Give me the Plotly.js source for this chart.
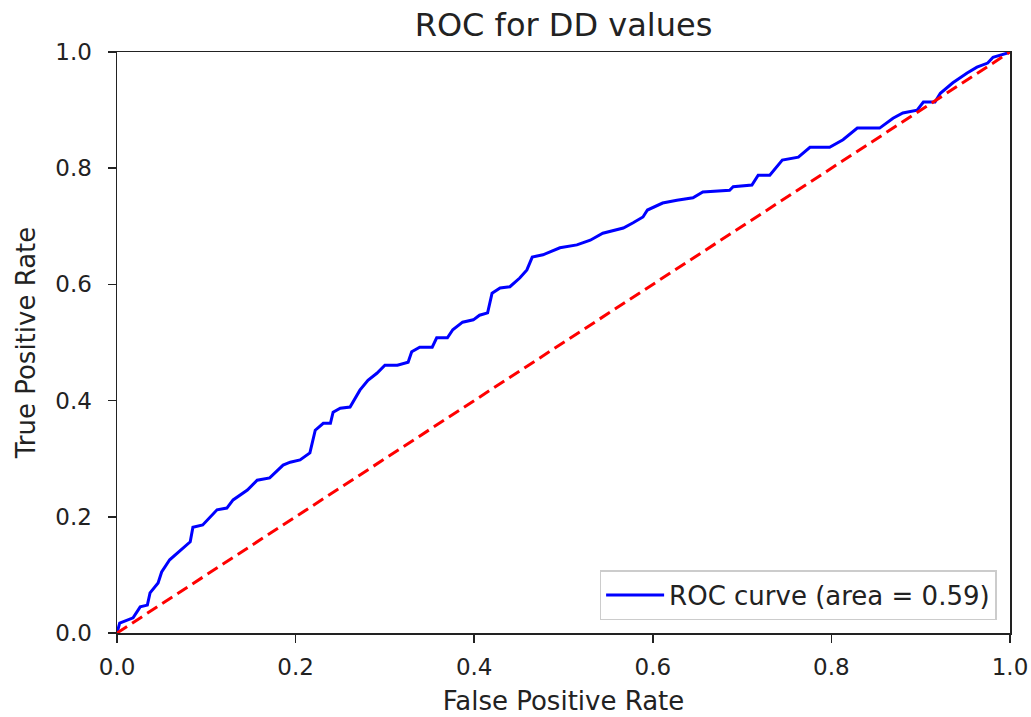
<!DOCTYPE html>
<html>
<head>
<meta charset="utf-8">
<script src="https://cdn.plot.ly/plotly-3.0.1.min.js"></script>
<style>html,body{margin:0;padding:0;background:#fff;}#chart{width:1031px;height:717px;}</style>
</head>
<body>
<div id="chart"></div>
<script>
const fpr = [0.0, 0.003, 0.018, 0.026, 0.034, 0.037, 0.046, 0.05, 0.059, 0.071, 0.082, 0.085, 0.096, 0.112, 0.123, 0.13, 0.146, 0.157, 0.171, 0.186, 0.194, 0.205, 0.216, 0.222, 0.231, 0.239, 0.242, 0.25, 0.261, 0.272, 0.281, 0.291, 0.3, 0.314, 0.326, 0.33, 0.339, 0.353, 0.358, 0.37, 0.376, 0.387, 0.399, 0.406, 0.415, 0.42, 0.429, 0.44, 0.451, 0.459, 0.465, 0.477, 0.496, 0.515, 0.53, 0.544, 0.567, 0.578, 0.589, 0.594, 0.611, 0.627, 0.645, 0.656, 0.686, 0.69, 0.711, 0.718, 0.731, 0.745, 0.763, 0.776, 0.798, 0.813, 0.829, 0.854, 0.869, 0.88, 0.896, 0.903, 0.916, 0.922, 0.936, 0.952, 0.963, 0.975, 0.981, 0.997, 1.0];
const tpr = [0.0, 0.017, 0.026, 0.045, 0.048, 0.069, 0.086, 0.105, 0.126, 0.143, 0.157, 0.182, 0.186, 0.212, 0.215, 0.229, 0.246, 0.263, 0.267, 0.289, 0.294, 0.298, 0.31, 0.349, 0.361, 0.361, 0.38, 0.387, 0.389, 0.418, 0.435, 0.447, 0.461, 0.461, 0.466, 0.484, 0.492, 0.492, 0.508, 0.508, 0.522, 0.535, 0.539, 0.547, 0.551, 0.585, 0.594, 0.596, 0.611, 0.625, 0.647, 0.651, 0.663, 0.668, 0.676, 0.688, 0.697, 0.706, 0.716, 0.728, 0.74, 0.745, 0.749, 0.759, 0.762, 0.768, 0.771, 0.788, 0.788, 0.814, 0.819, 0.836, 0.836, 0.849, 0.869, 0.869, 0.886, 0.895, 0.9, 0.914, 0.914, 0.929, 0.947, 0.964, 0.974, 0.981, 0.991, 0.998, 1.0];
const chanceX = [0, 1];
const chanceY = [0, 1];
const tickVals = [0, 0.2, 0.4, 0.6, 0.8, 1.0];
const tickText = ["0.0", "0.2", "0.4", "0.6", "0.8", "1.0"];
const curveName = "ROC curve (area = 0.59)";
const titleText = "ROC for DD values";
const xLabel = "False Positive Rate";
const yLabel = "True Positive Rate";

const font = "DejaVu Sans, sans-serif";
const traces = [
  {x: fpr, y: tpr, type: "scatter", mode: "lines", name: curveName,
   line: {color: "#0000ff", width: 3}},
  {x: chanceX, y: chanceY, type: "scatter", mode: "lines", showlegend: false,
   line: {color: "#ff0000", width: 3, dash: "12px,6px"}}
];
const axisCommon = {
  range: [0, 1], tickvals: tickVals, ticktext: tickText,
  ticks: "outside", ticklen: 8, tickwidth: 1.5, tickcolor: "#222",
  showline: true, linecolor: "#222", linewidth: 1.5, mirror: true,
  showgrid: false, zeroline: false,
  tickfont: {family: font, size: 23, color: "#222"}
};
const layout = {
  width: 1031, height: 717,
  margin: {l: 117, r: 21, t: 52, b: 84},
  paper_bgcolor: "#fff", plot_bgcolor: "#fff",
  font: {family: font, color: "#222"},
  title: {text: titleText, font: {family: font, size: 32, color: "#222"}, x: 0.5, xref: "paper", y: 0.965, yanchor: "middle"},
  xaxis: Object.assign({}, axisCommon, {ticklabelstandoff: 5, title: {text: xLabel, font: {family: font, size: 26, color: "#222"}, standoff: 12}}),
  yaxis: Object.assign({}, axisCommon, {ticklabelstandoff: 11, title: {text: yLabel, font: {family: font, size: 26, color: "#222"}, standoff: 12}}),
  showlegend: true,
  legend: {x: 0.985, y: 0.022, xanchor: "right", yanchor: "bottom", itemwidth: 58,
           bgcolor: "rgba(255,255,255,0.8)", bordercolor: "#ccc", borderwidth: 1.5,
           font: {family: font, size: 26, color: "#222"}}
};
Plotly.newPlot("chart", traces, layout, {displayModeBar: false, staticPlot: true});
</script>
</body>
</html>
